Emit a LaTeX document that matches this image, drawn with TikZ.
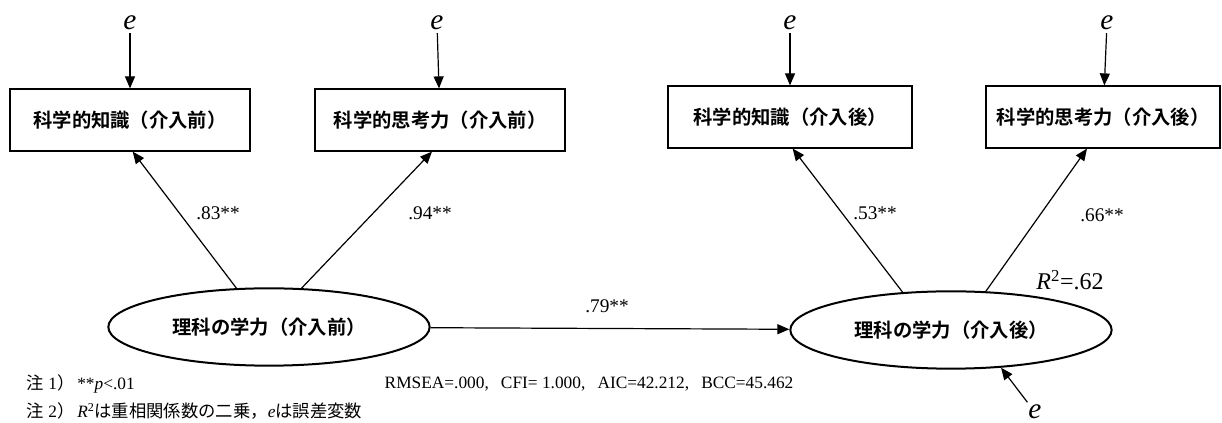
\documentclass[tikz,border=0pt]{standalone}
\usepackage{fontspec}
\setmainfont{Liberation Serif}
\newfontfamily\jpgothic{Noto Sans CJK JP}[BoldFont={Noto Sans CJK JP Bold}]
\usetikzlibrary{arrows.meta,shapes.geometric}

\begin{document}
\begin{tikzpicture}[x=0.75pt, y=-0.75pt,
    obs/.style={draw, line width=1.4pt, rectangle, minimum height=46pt, inner sep=0pt,
        font=\jpgothic\bfseries\fontsize{14.5}{17}\selectfont},
    lat/.style={draw, line width=1.5pt, ellipse, minimum width=241pt, minimum height=58pt, inner sep=0pt,
        font=\jpgothic\bfseries\fontsize{14.5}{17}\selectfont},
    load/.style={-{Triangle[length=9pt,width=7.5pt]}, line width=0.9pt},
    err/.style={anchor=base, inner sep=2pt, font=\itshape\fontsize{22}{22}\selectfont},
    coef/.style={font=\fontsize{14.5}{17}\selectfont},
    note/.style={anchor=west, font=\fontsize{13}{15}\selectfont}]

    \useasboundingbox (0,0) rectangle (1222,423);

    % 観測変数
    \node[obs, minimum width=180pt] (knowPre)   at (130,120) {科学的知識（介入前）};
    \node[obs, minimum width=187pt] (thinkPre)  at (440,120) {科学的思考力（介入前）};
    \node[obs, minimum width=183pt] (knowPost)  at (790,117) {科学的知識（介入後）};
    \node[obs, minimum width=176pt] (thinkPost) at (1103,117) {科学的思考力（介入後）};

    % 潜在変数
    \node[lat] (abilPre)  at (269,327) {理科の学力（介入前）};
    \node[lat] (abilPost) at (951,330) {理科の学力（介入後）};

    % 誤差変数
    \foreach \b/\x in {knowPre/130, thinkPre/437, knowPost/790, thinkPost/1107} {
        \node[err] (e\b) at (\x,30) {e};
        \draw[load] (e\b) -- (\b);
    }
    \node[err] (eAbilPost) at (1035,419) {e};
    \draw[load] (eAbilPost) -- (abilPost.-37);

    % 因子負荷
    \draw[load] (abilPre.130)  -- ([xshift=2pt]knowPre.south);
    \draw[load] (abilPre.50)   -- ([xshift=-6pt]thinkPre.south);
    \draw[load] (abilPost.142) -- ([xshift=2pt]knowPost.south);
    \draw[load] (abilPost.48)  -- ([xshift=-12pt]thinkPost.south);
    \draw[load] (abilPre) -- (abilPost);

    % パス係数
    \node[coef] (cKnowPre)   at (218,213) {.83**};
    \node[coef] (cThinkPre)  at (430,213) {.94**};
    \node[coef] (cKnowPost)  at (875,213) {.53**};
    \node[coef] (cThinkPost) at (1102,215) {.66**};
    \node[coef] (cAbil)      at (607,306) {.79**};
    \node[font=\fontsize{18}{20}\selectfont] (rsq) at (1070,280) {\textit{R}\textsuperscript{2}=.62};

    % 注・適合度
    \node[note] (note1) at (22,384) {{\jpgothic 注}~1{\jpgothic ）}\,**\textit{p}<.01};
    \node[note] (fit) at (380,384) {RMSEA=.000,\hspace{0.7em}CFI= 1.000,\hspace{0.7em}AIC=42.212,\hspace{0.7em}BCC=45.462};
    \node[note] (note2) at (22,411) {{\jpgothic 注}~2{\jpgothic ）}\,\textit{R}\textsuperscript{2}{\jpgothic は重相関係数の二乗，}\textit{e}{\jpgothic は誤差変数}};

\end{tikzpicture}
\end{document}
